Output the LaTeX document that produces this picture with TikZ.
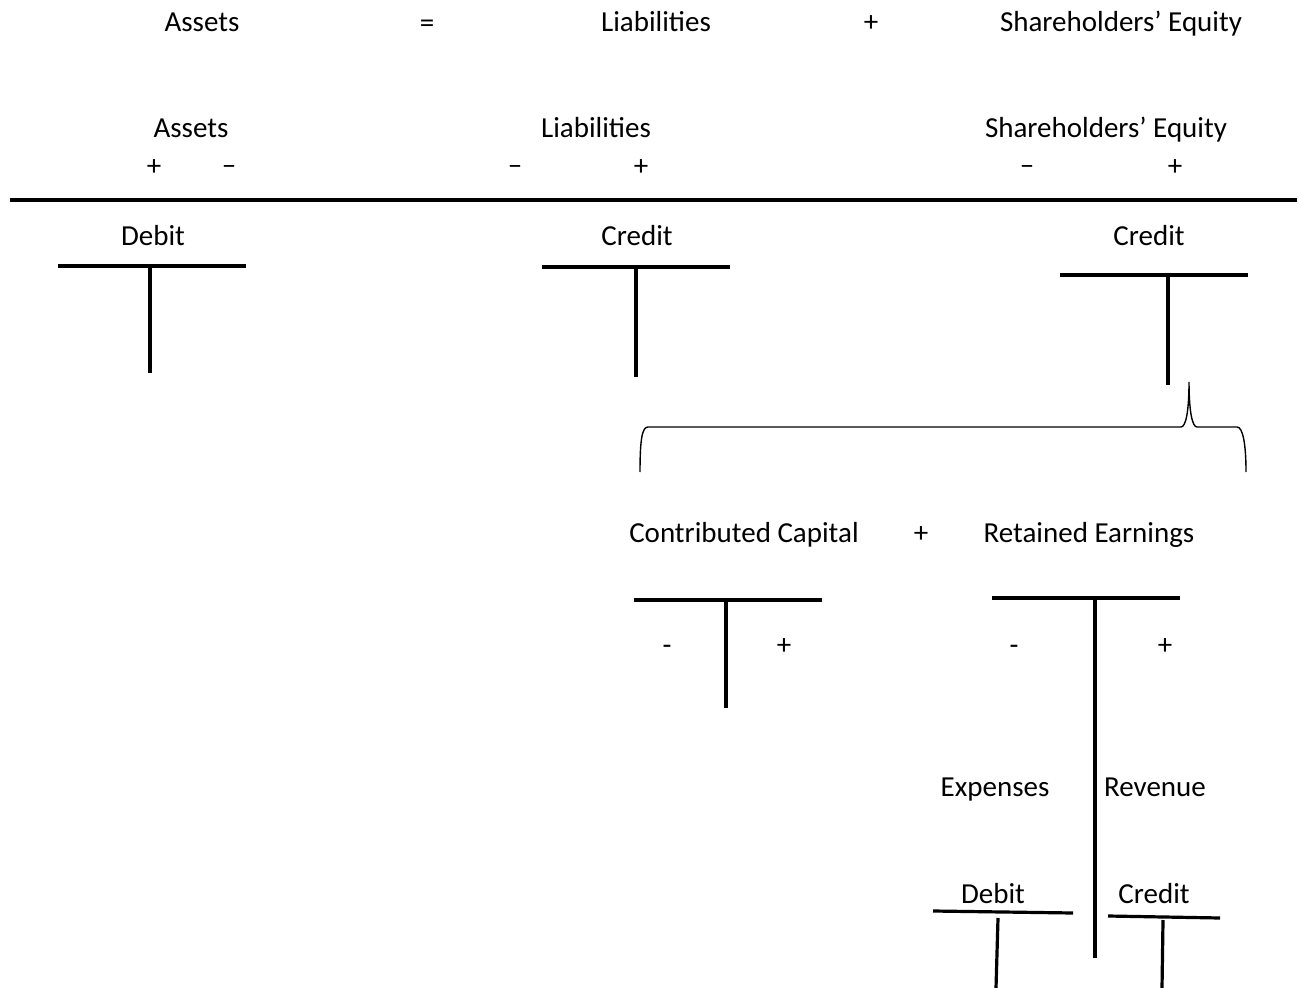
\documentclass[tikz,border=0pt]{standalone}
\usepackage{fontspec}
\setmainfont{Carlito}
\usetikzlibrary{positioning}

\begin{document}
\begin{tikzpicture}[x=0.5pt, y=-0.5pt,
    lbl/.style={inner sep=0pt, anchor=base, font=\fontsize{14.5}{17}\selectfont},
    sgn/.style={inner sep=0pt, anchor=center, font=\fontsize{14.5}{17}\selectfont},
    tbar/.style={line width=2.1pt},
    tsmall/.style={line width=1.6pt},
    brace/.style={line width=0.7pt}]
    \useasboundingbox (0,0) rectangle (1299,988);

    % the equation on top
    \node[lbl] (assets0) at (202,32) {Assets};
    \node[sgn] (equals)  at (427,26) {=};
    \node[lbl] (liab0)   at (656,32) {Liabilities};
    \node[sgn] (plus0)   at (871,24) {+};
    \node[lbl] (equity0) at (1121,32) {Shareholders’ Equity};

    % headings with their signs
    \node[lbl] (assets1) at (191,138) {Assets};
    \node[lbl] (liab1)   at (596,138) {Liabilities};
    \node[lbl] (equity1) at (1106,138) {Shareholders’ Equity};
    \node[sgn] (assetsP) at (154,168) {+};
    \node[sgn] (assetsM) at (229,170) {–};
    \node[sgn] (liabM)   at (515,170) {–};
    \node[sgn] (liabP)   at (641,168) {+};
    \node[sgn] (equityM) at (1027,170) {–};
    \node[sgn] (equityP) at (1175,168) {+};

    \draw[line width=2.2pt] (10,200) -- (1297,200);

    % normal balances
    \node[lbl] (debitA)  at (153,246) {Debit};
    \node[lbl] (creditL) at (637,246) {Credit};
    \node[lbl] (creditE) at (1149,246) {Credit};

    \draw[tbar] (58,266) -- (246,266);
    \draw[tbar] (150,266) -- (150,373);
    \draw[tbar] (542,267) -- (730,267);
    \draw[tbar] (636,267) -- (636,377);
    \draw[tbar] (1060,275) -- (1248,275);
    \draw[tbar] (1168,275) -- (1168,385);

    % brace under the equity account
    \draw[brace] (640,472) .. controls (640,440) and (642,427) .. (648,427)
        -- (1181,427) .. controls (1186,427) and (1189,410) .. (1189,382)
        .. controls (1189,410) and (1192,427) .. (1197,427)
        -- (1237,427) .. controls (1243,427) and (1246,445) .. (1246,472);

    % split of the equity
    \node[lbl] (capital)  at (744,542) {Contributed Capital};
    \node[sgn] (plus1)    at (921,535) {+};
    \node[lbl] (retained) at (1089,542) {Retained Earnings};

    \draw[tbar] (634,600) -- (822,600);
    \draw[tbar] (726,600) -- (726,708);
    \node[sgn] (capitalM) at (667,650) {-};
    \node[sgn] (capitalP) at (784,647) {+};

    \draw[tbar] (992,598) -- (1180,598);
    \draw[tbar] (1095,598) -- (1095,958);
    \node[sgn] (retainedM) at (1014,650) {-};
    \node[sgn] (retainedP) at (1165,647) {+};

    \node[lbl] (expenses) at (995,796) {Expenses};
    \node[lbl] (revenue)  at (1155,796) {Revenue};

    \node[lbl] (debitX)  at (993,903) {Debit};
    \node[lbl] (creditR) at (1154,903) {Credit};

    \draw[tsmall] (933,911) -- (1073,913);
    \draw[tsmall] (998,918) -- (996,988);
    \draw[tsmall] (1108,916) -- (1220,918);
    \draw[tsmall] (1163,920) -- (1162,988);
\end{tikzpicture}
\end{document}
